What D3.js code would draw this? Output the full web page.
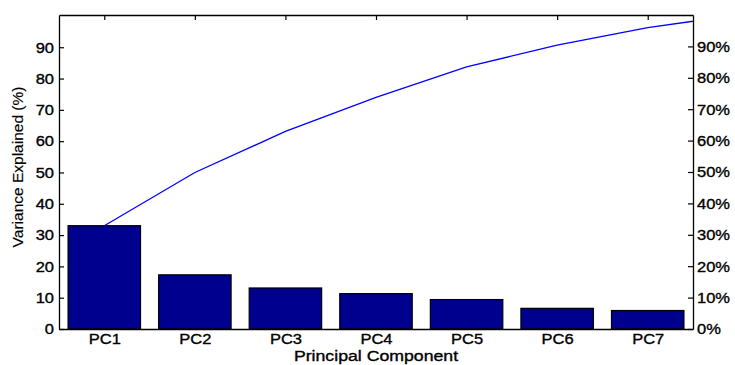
<!DOCTYPE html>
<html>
  <head>
  <title>Pareto - Variance Explained</title>
  <style>
    body, html {
      margin: 0;
      padding: 0;
      background: white;
    }
    text {
      font-family: "Liberation Sans", Arial, Helvetica, sans-serif;
      fill: black;
      stroke: black;
      stroke-width: 0.35px;
    }
  </style>
  </head>
  <body>
  <svg id="chart" width="735" height="365"></svg>

  <script src="https://d3js.org/d3.v7.min.js"></script>
  <script>
    // data
    const components = ['PC1', 'PC2', 'PC3', 'PC4', 'PC5', 'PC6', 'PC7']
    const variance = [33.0, 17.3, 13.1, 11.3, 9.4, 6.6, 5.9]
    // cumulative line, last point is the hidden 8th component (runs off the right edge)
    const cumulative = [33.0, 50.0, 63.1, 74.0, 83.7, 90.7, 96.3, 100.3]
    const leftTicks = [0, 10, 20, 30, 40, 50, 60, 70, 80, 90]
    const rightTicks = [0, 10, 20, 30, 40, 50, 60, 70, 80, 90]
    const yMax = 100.3

    const W = 735, H = 365
    const margin = { top: 15, right: 42, bottom: 36, left: 59 }
    const stretch = 1.1   // the picture's text is a bit wide

    const svg = d3.select('#chart')

    const x = d3.scaleLinear()
      .domain([0.5, components.length + 0.5])
      .range([margin.left, W - margin.right])

    const y = d3.scaleLinear()
      .domain([0, yMax])
      .range([H - margin.bottom, margin.top])

    const yPct = d3.scaleLinear()
      .domain([0, 100])
      .range([H - margin.bottom, margin.top])

    svg.append('clipPath')
      .attr('id', 'plot-clip')
      .append('rect')
      .attr('x', margin.left)
      .attr('y', margin.top)
      .attr('width', W - margin.left - margin.right)
      .attr('height', H - margin.top - margin.bottom)

    // bars
    const barW = (x(1.4) - x(0.6))
    svg.append('g')
      .selectAll('rect')
      .data(variance)
      .join('rect')
      .attr('x', (d, i) => x(i + 1) - barW / 2)
      .attr('y', d => y(d))
      .attr('width', barW)
      .attr('height', d => y(0) - y(d))
      .attr('fill', '#00008f')
      .attr('stroke', 'black')
      .attr('stroke-width', 1.2)

    // cumulative line
    const line = d3.line()
      .x((d, i) => x(i + 1))
      .y(d => y(d))

    svg.append('path')
      .datum(cumulative)
      .attr('clip-path', 'url(#plot-clip)')
      .attr('d', line)
      .attr('fill', 'none')
      .attr('stroke', '#0000ff')
      .attr('stroke-width', 1.3)

    function widen(g) {
      g.selectAll('.tick text').each(function() {
        const t = d3.select(this)
        const x0 = +t.attr('x') || 0
        t.attr('x', x0 / stretch)
          .attr('transform', `scale(${stretch},1)`)
      })
    }

    function styleAxis(g) {
      g.selectAll('.domain').attr('stroke', 'black').attr('stroke-width', 1.3)
      g.selectAll('.tick line').attr('stroke', 'black').attr('stroke-width', 1.2)
      g.selectAll('.tick text').attr('font-size', 15).attr('fill', 'black')
    }

    // left axis
    svg.append('g')
      .attr('transform', `translate(${margin.left},0)`)
      .call(d3.axisLeft(y).tickValues(leftTicks).tickSizeInner(-5).tickSizeOuter(0).tickPadding(5))
      .call(styleAxis)
      .call(widen)

    // right axis in percent
    svg.append('g')
      .attr('transform', `translate(${W - margin.right},0)`)
      .call(d3.axisRight(yPct).tickValues(rightTicks).tickFormat(d => d + '%')
        .tickSizeInner(-5).tickSizeOuter(0).tickPadding(4))
      .call(styleAxis)
      .call(widen)

    // bottom axis
    svg.append('g')
      .attr('transform', `translate(0,${H - margin.bottom})`)
      .call(d3.axisBottom(x).tickValues(d3.range(1, components.length + 1))
        .tickFormat(d => components[d - 1]).tickSizeInner(0).tickSizeOuter(0).tickPadding(4))
      .call(styleAxis)
      .call(widen)

    // top axis, ticks only
    svg.append('g')
      .attr('transform', `translate(0,${margin.top})`)
      .call(d3.axisTop(x).tickValues(d3.range(1, components.length + 1))
        .tickFormat('').tickSizeInner(-5).tickSizeOuter(0))
      .call(styleAxis)

    // axis titles
    svg.append('text')
      .attr('transform', `translate(${(margin.left + W - margin.right) / 2},${H - 4}) scale(1.18,1)`)
      .attr('text-anchor', 'middle')
      .attr('font-size', 15)
      .text('Principal Component')

    svg.append('text')
      .attr('transform', `translate(23,${(margin.top + H - margin.bottom) / 2 - 5}) rotate(-90)`)
      .attr('text-anchor', 'middle')
      .attr('font-size', 15.5)
      .style('stroke-width', '0.15px')
      .text('Variance Explained (%)')
  </script>
  </body>
</html>
